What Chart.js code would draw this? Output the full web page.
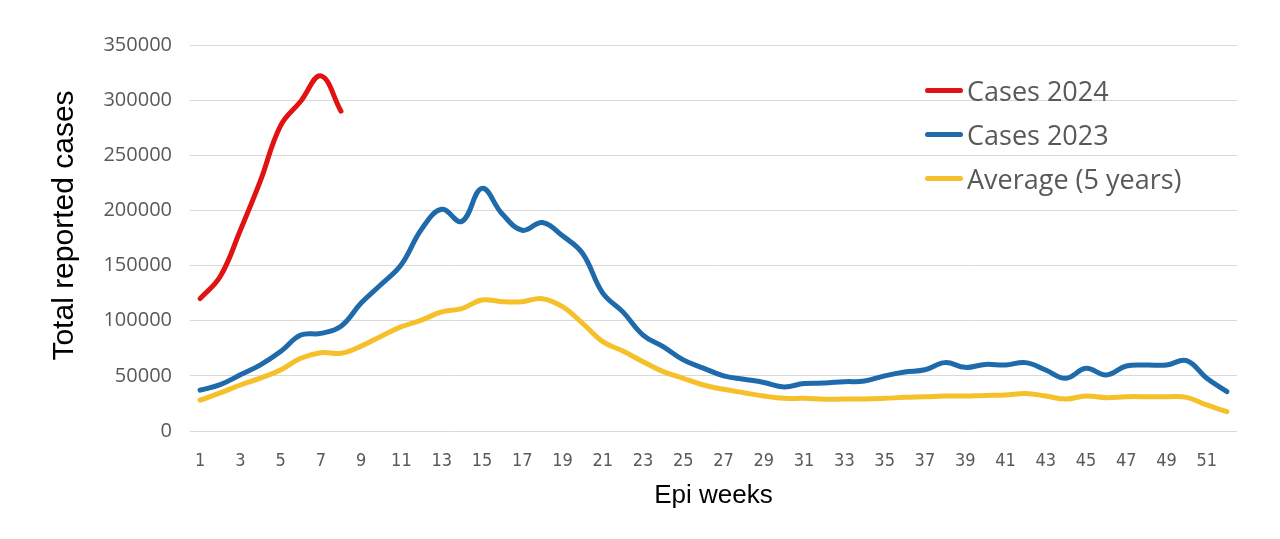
<!DOCTYPE html>
<html>
<head>
<meta charset="utf-8">
<script src="https://cdn.jsdelivr.net/npm/chart.js@4.4.1/dist/chart.umd.min.js"></script>
<style>
  body { margin: 0; background: #fff; }
  #wrap { position: relative; width: 1280px; height: 539px; }
  #legend { position: absolute; left: 925px; top: 68px; font-family: "Open Sans", "Noto Sans", sans-serif; font-size: 27px; color: #595959; }
  .item { display: flex; align-items: center; height: 44px; }
  .swatch { width: 38px; height: 5px; border-radius: 3px; margin-right: 4px; }
</style>
</head>
<body>
<div id="wrap">
  <canvas id="myChart" width="1280" height="539"></canvas>
  <div id="legend"></div>
</div>
<script>
// epi weeks 1..52
const weeks = [];
for (let w = 1; w <= 52; w++) weeks.push(String(w));

const cases2024 = [120000, 140000, 182000, 227000, 277000, 299000, 322000, 290000];

const cases2023 = [
  37000, 42000, 51000, 60000, 72000, 87000, 88500, 95000, 116000, 133000,
  151000, 183000, 201000, 190000, 220000, 197000, 182000, 189000, 177000, 161000,
  125000, 108000, 87000, 76500, 64500, 57000, 50000, 47000, 44000, 40000,
  43000, 43500, 44700, 45300, 50000, 53500, 55500, 62000, 57700, 60400,
  59800, 62000, 55300, 47800, 56800, 50800, 58900, 59800, 59800, 63800,
  47800, 35700
];

const average5y = [
  28000, 34500, 41700, 48000, 55300, 66000, 71000, 70500, 77000, 86000,
  94600, 100600, 108000, 111000, 118800, 117300, 117300, 120000, 112700, 97600,
  81000, 72500, 62800, 53800, 47800, 41700, 37800, 34700, 31700, 29600,
  29600, 28700, 29000, 29000, 29600, 30500, 31000, 31700, 31700, 32300,
  32600, 34100, 31700, 29000, 31700, 30200, 31100, 31100, 31100, 30500,
  23600, 17500
];

const seriesLabels = ["Cases 2024", "Cases 2023", "Average (5 years)"];
const seriesColors = ["#e01212", "#1f6aab", "#f5c02a"];

const data = {
  labels: weeks,
  datasets: [cases2024, cases2023, average5y].map((vals, i) => ({
    label: seriesLabels[i],
    data: vals,
    borderColor: seriesColors[i],
    backgroundColor: seriesColors[i],
    borderWidth: 5,
    pointRadius: 0,
    tension: 0.4,
    fill: false,
    borderCapStyle: "round",
    borderJoinStyle: "round",
  })),
};

const ctx = document.getElementById("myChart");
new Chart(ctx, {
  type: "line",
  data: data,
  options: {
    responsive: false,
    animation: false,
    devicePixelRatio: 1,
    layout: { padding: { top: 45, right: 43, left: 0, bottom: 0 } },
    plugins: { legend: { display: false }, tooltip: { enabled: false } },
    scales: {
      x: {
        offset: true,
        grid: { display: false, drawTicks: false },
        border: { display: false },
        ticks: {
          autoSkip: false,
          maxRotation: 0,
          padding: 20,
          color: "#595959",
          font: { family: "'Liberation Sans Narrow', 'DejaVu Sans Condensed', 'Liberation Sans'", size: 18 },
          callback: function (v, i) { return i % 2 === 0 ? weeks[i] : ""; },
        },
        title: {
          display: true,
          text: "Epi weeks",
          color: "#000",
          font: { family: "'Liberation Sans', Arial", size: 26 },
          padding: { top: 0, bottom: 28 },
        },
        afterFit: function (scale) { scale.height = 108; },
      },
      y: {
        min: 0,
        max: 350000,
        grid: { color: "#d9d9d9", lineWidth: 1, drawTicks: false },
        border: { display: false },
        ticks: {
          stepSize: 50000,
          padding: 18,
          color: "#595959",
          font: { family: "'Open Sans', 'Noto Sans'", size: 20 },
          callback: function (v) { return String(v); },
        },
        title: {
          display: true,
          // leading spaces nudge the rotated title up a little, like the original
          text: "   Total reported cases",
          color: "#000",
          font: { family: "'Liberation Sans', Arial", size: 30 },
          padding: { top: 47, bottom: 0 },
        },
        afterFit: function (scale) { scale.width = 190; },
      },
    },
  },
});

// legend inside the plot, top right
const legend = document.getElementById("legend");
seriesLabels.forEach((name, i) => {
  const row = document.createElement("div");
  row.className = "item";
  row.innerHTML = '<span class="swatch" style="background:' + seriesColors[i] + '"></span><span>' + name + "</span>";
  legend.appendChild(row);
});
</script>
</body>
</html>
